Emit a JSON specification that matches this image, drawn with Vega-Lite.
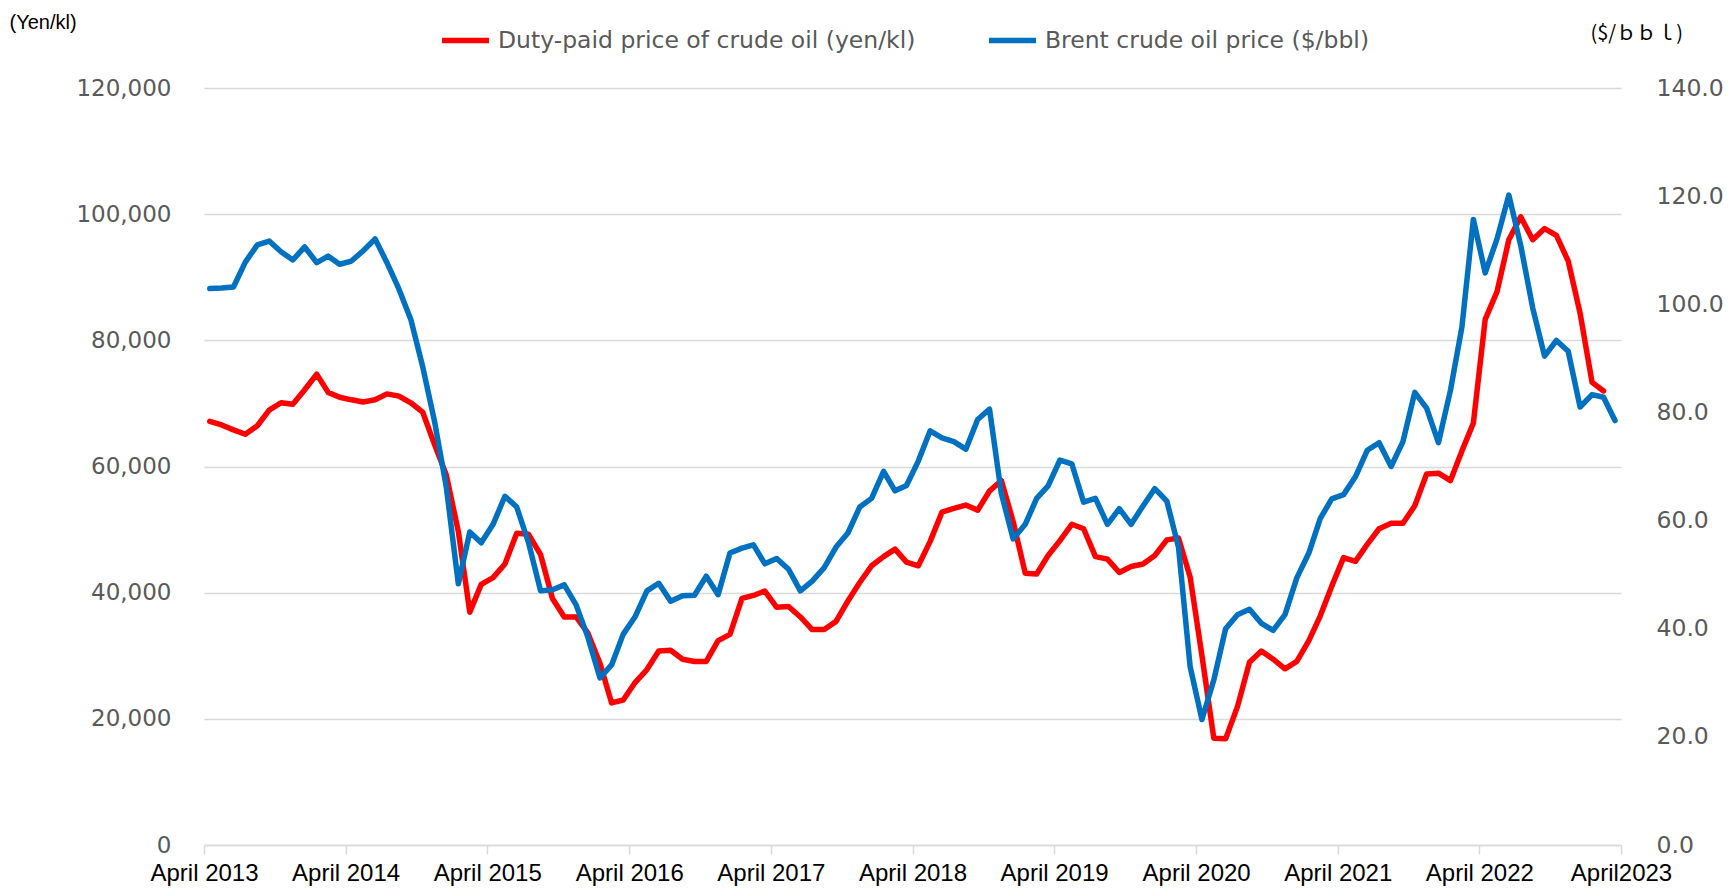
{
  "$schema": "https://vega.github.io/schema/vega-lite/v6.json",
  "width": 1417,
  "height": 757,
  "autosize": {"type": "none"},
  "padding": {"left": 204, "top": 88, "right": 110, "bottom": 44},
  "background": "white",
  "config": {"view": {"stroke": null}, "font": "DejaVu Sans"},
  "data": {"values": [
    {"date": "2013/04/01", "duty": 67160, "brent": 102.9},
    {"date": "2013/05/01", "duty": 66580, "brent": 103.0},
    {"date": "2013/06/01", "duty": 65810, "brent": 103.2},
    {"date": "2013/07/01", "duty": 65110, "brent": 107.8},
    {"date": "2013/08/01", "duty": 66460, "brent": 111.0},
    {"date": "2013/09/01", "duty": 68930, "brent": 111.7},
    {"date": "2013/10/01", "duty": 70100, "brent": 109.7},
    {"date": "2013/11/01", "duty": 69870, "brent": 108.2},
    {"date": "2013/12/01", "duty": 72160, "brent": 110.6},
    {"date": "2014/01/01", "duty": 74620, "brent": 107.7},
    {"date": "2014/02/01", "duty": 71750, "brent": 108.9},
    {"date": "2014/03/01", "duty": 70980, "brent": 107.4},
    {"date": "2014/04/01", "duty": 70570, "brent": 108.0},
    {"date": "2014/05/01", "duty": 70220, "brent": 109.9},
    {"date": "2014/06/01", "duty": 70570, "brent": 112.1},
    {"date": "2014/07/01", "duty": 71510, "brent": 107.7},
    {"date": "2014/08/01", "duty": 71160, "brent": 102.8},
    {"date": "2014/09/01", "duty": 70100, "brent": 97.2},
    {"date": "2014/10/01", "duty": 68630, "brent": 88.5},
    {"date": "2014/11/01", "duty": 63500, "brent": 78.4},
    {"date": "2014/12/01", "duty": 58650, "brent": 66.2},
    {"date": "2015/01/01", "duty": 49700, "brent": 48.3},
    {"date": "2015/02/01", "duty": 36910, "brent": 57.9},
    {"date": "2015/03/01", "duty": 41320, "brent": 55.9},
    {"date": "2015/04/01", "duty": 42380, "brent": 59.3},
    {"date": "2015/05/01", "duty": 44550, "brent": 64.5},
    {"date": "2015/06/01", "duty": 49430, "brent": 62.5},
    {"date": "2015/07/01", "duty": 49250, "brent": 55.9},
    {"date": "2015/08/01", "duty": 46020, "brent": 47.0},
    {"date": "2015/09/01", "duty": 39090, "brent": 47.2},
    {"date": "2015/10/01", "duty": 36150, "brent": 48.1},
    {"date": "2015/11/01", "duty": 36150, "brent": 44.4},
    {"date": "2015/12/01", "duty": 33570, "brent": 38.4},
    {"date": "2016/01/01", "duty": 28810, "brent": 30.9},
    {"date": "2016/02/01", "duty": 22520, "brent": 33.3},
    {"date": "2016/03/01", "duty": 22990, "brent": 39.0},
    {"date": "2016/04/01", "duty": 25750, "brent": 42.2},
    {"date": "2016/05/01", "duty": 27810, "brent": 47.0},
    {"date": "2016/06/01", "duty": 30750, "brent": 48.4},
    {"date": "2016/07/01", "duty": 30860, "brent": 45.1},
    {"date": "2016/08/01", "duty": 29450, "brent": 46.1},
    {"date": "2016/09/01", "duty": 29100, "brent": 46.2},
    {"date": "2016/10/01", "duty": 29100, "brent": 49.7},
    {"date": "2016/11/01", "duty": 32390, "brent": 46.3},
    {"date": "2016/12/01", "duty": 33390, "brent": 54.0},
    {"date": "2017/01/01", "duty": 39090, "brent": 54.9},
    {"date": "2017/02/01", "duty": 39560, "brent": 55.5},
    {"date": "2017/03/01", "duty": 40260, "brent": 52.0},
    {"date": "2017/04/01", "duty": 37680, "brent": 53.0},
    {"date": "2017/05/01", "duty": 37800, "brent": 51.0},
    {"date": "2017/06/01", "duty": 36150, "brent": 47.0},
    {"date": "2017/07/01", "duty": 34150, "brent": 48.8},
    {"date": "2017/08/01", "duty": 34150, "brent": 51.3},
    {"date": "2017/09/01", "duty": 35450, "brent": 55.1},
    {"date": "2017/10/01", "duty": 38680, "brent": 57.7},
    {"date": "2017/11/01", "duty": 41610, "brent": 62.5},
    {"date": "2017/12/01", "duty": 44260, "brent": 64.1},
    {"date": "2018/01/01", "duty": 45720, "brent": 69.1},
    {"date": "2018/02/01", "duty": 46900, "brent": 65.5},
    {"date": "2018/03/01", "duty": 44840, "brent": 66.5},
    {"date": "2018/04/01", "duty": 44260, "brent": 71.0},
    {"date": "2018/05/01", "duty": 48130, "brent": 76.6},
    {"date": "2018/06/01", "duty": 52770, "brent": 75.3},
    {"date": "2018/07/01", "duty": 53360, "brent": 74.6},
    {"date": "2018/08/01", "duty": 53890, "brent": 73.2},
    {"date": "2018/09/01", "duty": 53070, "brent": 78.7},
    {"date": "2018/10/01", "duty": 56120, "brent": 80.6},
    {"date": "2018/11/01", "duty": 57770, "brent": 65.0},
    {"date": "2018/12/01", "duty": 51250, "brent": 56.6},
    {"date": "2019/01/01", "duty": 43080, "brent": 59.3},
    {"date": "2019/02/01", "duty": 42960, "brent": 64.1},
    {"date": "2019/03/01", "duty": 45900, "brent": 66.4},
    {"date": "2019/04/01", "duty": 48250, "brent": 71.2},
    {"date": "2019/05/01", "duty": 50840, "brent": 70.5},
    {"date": "2019/06/01", "duty": 50130, "brent": 63.4},
    {"date": "2019/07/01", "duty": 45720, "brent": 64.1},
    {"date": "2019/08/01", "duty": 45310, "brent": 59.3},
    {"date": "2019/09/01", "duty": 43200, "brent": 62.2},
    {"date": "2019/10/01", "duty": 44140, "brent": 59.3},
    {"date": "2019/11/01", "duty": 44550, "brent": 62.7},
    {"date": "2019/12/01", "duty": 45900, "brent": 65.9},
    {"date": "2020/01/01", "duty": 48370, "brent": 63.6},
    {"date": "2020/02/01", "duty": 48660, "brent": 55.1},
    {"date": "2020/03/01", "duty": 42490, "brent": 33.0},
    {"date": "2020/04/01", "duty": 30000, "brent": 23.2},
    {"date": "2020/05/01", "duty": 16940, "brent": 30.5},
    {"date": "2020/06/01", "duty": 16830, "brent": 40.0},
    {"date": "2020/07/01", "duty": 21940, "brent": 42.6},
    {"date": "2020/08/01", "duty": 28980, "brent": 43.6},
    {"date": "2020/09/01", "duty": 30750, "brent": 41.0},
    {"date": "2020/10/01", "duty": 29450, "brent": 39.7},
    {"date": "2020/11/01", "duty": 27930, "brent": 42.6},
    {"date": "2020/12/01", "duty": 29100, "brent": 49.4},
    {"date": "2021/01/01", "duty": 32390, "brent": 54.0},
    {"date": "2021/02/01", "duty": 36330, "brent": 60.4},
    {"date": "2021/03/01", "duty": 41030, "brent": 64.0},
    {"date": "2021/04/01", "duty": 45550, "brent": 64.8},
    {"date": "2021/05/01", "duty": 44960, "brent": 68.1},
    {"date": "2021/06/01", "duty": 47660, "brent": 73.0},
    {"date": "2021/07/01", "duty": 50130, "brent": 74.4},
    {"date": "2021/08/01", "duty": 51010, "brent": 70.0},
    {"date": "2021/09/01", "duty": 51010, "brent": 74.6},
    {"date": "2021/10/01", "duty": 53770, "brent": 83.7},
    {"date": "2021/11/01", "duty": 58820, "brent": 80.8},
    {"date": "2021/12/01", "duty": 58940, "brent": 74.4},
    {"date": "2022/01/01", "duty": 57770, "brent": 84.1},
    {"date": "2022/02/01", "duty": 62470, "brent": 95.8},
    {"date": "2022/03/01", "duty": 66870, "brent": 115.7},
    {"date": "2022/04/01", "duty": 83320, "brent": 105.8},
    {"date": "2022/05/01", "duty": 87720, "brent": 112.1},
    {"date": "2022/06/01", "duty": 95950, "brent": 120.2},
    {"date": "2022/07/01", "duty": 99590, "brent": 110.9},
    {"date": "2022/08/01", "duty": 95950, "brent": 99.3},
    {"date": "2022/09/01", "duty": 97710, "brent": 90.4},
    {"date": "2022/10/01", "duty": 96650, "brent": 93.3},
    {"date": "2022/11/01", "duty": 92540, "brent": 91.3},
    {"date": "2022/12/01", "duty": 84320, "brent": 81.0},
    {"date": "2023/01/01", "duty": 73330, "brent": 83.3},
    {"date": "2023/02/01", "duty": 71980, "brent": 82.8},
    {"date": "2023/03/01", "duty": null, "brent": 78.5}
  ]},
  "encoding": {
    "x": {
      "field": "date",
      "timeUnit": "yearmonth",
      "type": "temporal",
      "bandPosition": 0.5,
      "scale": {
        "domain": [{"year": 2013, "month": 4, "date": 1}, {"year": 2023, "month": 4, "date": 1}],
        "nice": false
      },
      "axis": {
        "title": null,
        "values": [
          {"year": 2013, "month": 4, "date": 1}, {"year": 2014, "month": 4, "date": 1},
          {"year": 2015, "month": 4, "date": 1}, {"year": 2016, "month": 4, "date": 1},
          {"year": 2017, "month": 4, "date": 1}, {"year": 2018, "month": 4, "date": 1},
          {"year": 2019, "month": 4, "date": 1}, {"year": 2020, "month": 4, "date": 1},
          {"year": 2021, "month": 4, "date": 1}, {"year": 2022, "month": 4, "date": 1},
          {"year": 2023, "month": 4, "date": 1}
        ],
        "labelExpr": "year(datum.value) == 2023 ? 'April2023' : 'April ' + year(datum.value)",
        "grid": false,
        "domainColor": "#D9D9D9",
        "domainWidth": 1.5,
        "tickColor": "#D9D9D9",
        "tickWidth": 1.5,
        "tickSize": 9,
        "labelFont": "Liberation Sans",
        "labelFontSize": 24,
        "labelColor": "#000000",
        "labelPadding": 7,
        "labelFlush": false,
        "labelOverlap": false
      }
    }
  },
  "layer": [
    {
      "mark": {"type": "line", "strokeWidth": 5.5, "strokeJoin": "round", "strokeCap": "round"},
      "encoding": {
        "y": {
          "field": "duty",
          "type": "quantitative",
          "scale": {"domain": [0, 120000], "nice": false},
          "axis": {
            "title": "(Yen/kl)",
            "titleAngle": 0,
            "titleX": -195,
            "titleY": -66,
            "titleAlign": "left",
            "titleBaseline": "middle",
            "titleFont": "Liberation Sans",
            "titleFontSize": 20,
            "titleFontWeight": "normal",
            "titleColor": "#000000",
            "values": [0, 20000, 40000, 60000, 80000, 100000, 120000],
            "format": ",.0f",
            "grid": true,
            "gridColor": "#D9D9D9",
            "gridWidth": 1.5,
            "domain": false,
            "ticks": false,
            "labelFont": "DejaVu Sans",
            "labelFontSize": 23,
            "labelColor": "#595959",
            "labelPadding": 33
          }
        },
        "color": {
          "datum": "Duty-paid price of crude oil (yen/kl)",
          "type": "nominal",
          "scale": {
            "domain": ["Duty-paid price of crude oil (yen/kl)", "Brent crude oil price ($/bbl)"],
            "range": ["#FF0000", "#0070C0"]
          },
          "legend": {
            "orient": "none",
            "legendX": 235,
            "legendY": -74,
            "direction": "horizontal",
            "title": null,
            "symbolType": "stroke",
            "symbolSize": 2209,
            "symbolStrokeWidth": 5.5,
            "labelFont": "DejaVu Sans",
            "labelFontSize": 23.5,
            "labelColor": "#595959",
            "labelOffset": 6,
            "labelLimit": 800,
            "columnPadding": 62
          }
        }
      }
    },
    {
      "mark": {"type": "line", "strokeWidth": 5.5, "strokeJoin": "round", "strokeCap": "round"},
      "encoding": {
        "y": {
          "field": "brent",
          "type": "quantitative",
          "scale": {"domain": [0, 140], "nice": false},
          "axis": {
            "orient": "right",
            "title": "($/ｂｂｌ)",
            "titleAngle": 0,
            "titleX": -31,
            "titleY": -55,
            "titleAlign": "left",
            "titleBaseline": "middle",
            "titleFont": "Noto Sans CJK JP",
            "titleFontSize": 20,
            "titleFontWeight": "normal",
            "titleColor": "#000000",
            "values": [0, 20, 40, 60, 80, 100, 120, 140],
            "format": ".1f",
            "grid": false,
            "domain": false,
            "ticks": false,
            "labelFont": "DejaVu Sans",
            "labelFontSize": 23.5,
            "labelColor": "#595959",
            "labelPadding": 35
          }
        },
        "color": {"datum": "Brent crude oil price ($/bbl)", "type": "nominal"}
      }
    }
  ],
  "resolve": {"scale": {"y": "independent"}}
}
